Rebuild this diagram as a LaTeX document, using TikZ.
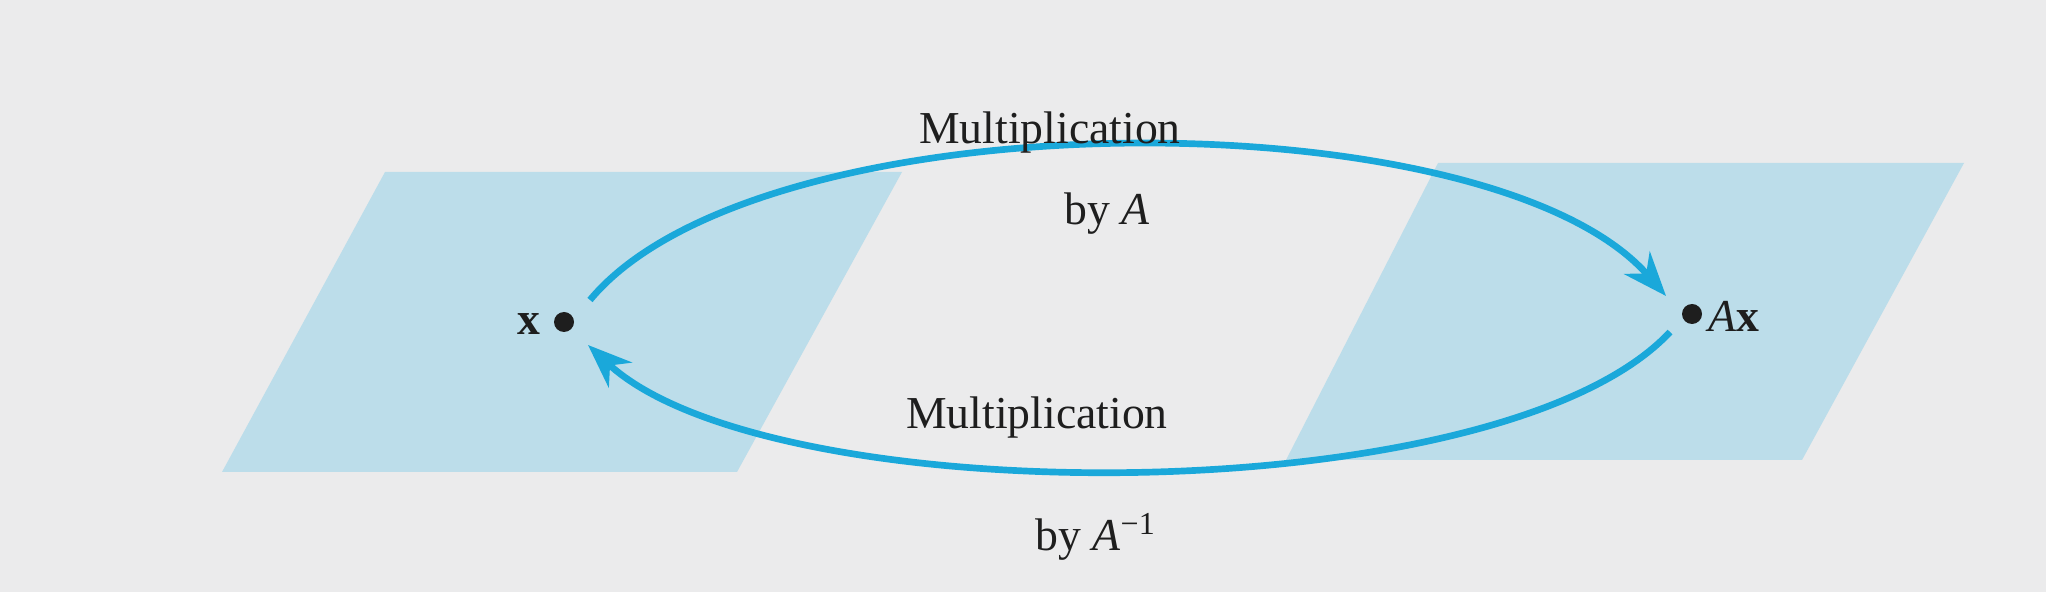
\documentclass[tikz,border=0pt]{standalone}
\usepackage{fontspec}
\setmainfont{Liberation Serif}
\usetikzlibrary{arrows.meta}
\definecolor{bgc}{HTML}{EBEBEC}
\definecolor{planec}{HTML}{BCDDEA}
\definecolor{arrc}{HTML}{1AA8DA}
\definecolor{inkc}{HTML}{1E1E1E}
\tikzset{
  plane/.style={fill=planec, draw=none},
  pt/.style={circle, fill=inkc, inner sep=0pt, minimum size=2mm},
  lab/.style={text=inkc, font=\fontsize{13}{15}\selectfont, inner sep=0pt},
  maparrow/.style={draw=arrc, line width=1.9pt, -{Stealth[length=4.4mm,width=3.4mm,inset=1.4mm]}}
}
\begin{document}
\begin{tikzpicture}[x=0.1mm,y=-0.1mm]
\fill[bgc] (0,0) rectangle (2046,592);
\useasboundingbox (0,0) rectangle (2046,592);
\path[plane] (385,172) -- (902,172) -- (737,472) -- (222,472) -- cycle;
\path[plane] (1438,163) -- (1964,163) -- (1802,460) -- (1286,460) -- cycle;
\node[pt] (xd) at (564,322) {};
\node[pt] (axd) at (1692,314) {};
\node[lab, anchor=east] (xl) at (541,324) {\textbf{x}};
\node[lab, anchor=west] (axl) at (1708,316) {\textit{A}\textbf{x}};
\coordinate (ts) at ([shift={(26,-22)}]xd.center);
\coordinate (te) at ([shift={(-26,-18)}]axd.center);
\coordinate (bs) at ([shift={(-22,18)}]axd.center);
\coordinate (be) at ([shift={(24,23)}]xd.center);
\draw[maparrow] (ts) .. controls (760,95) and (1490,95) .. (te);
\draw[maparrow] (bs) .. controls (1500,514) and (770,514) .. (be);
\node[lab] (m1) at (1050,133) {Multiplication};
\node[lab] (b1) at (1107,214) {by \textit{A}};
\node[lab] (m2) at (1037,418) {Multiplication};
\node[lab] (b2) at (1096,537) {by \textit{A}\textsuperscript{−1}};
\end{tikzpicture}
\end{document}
